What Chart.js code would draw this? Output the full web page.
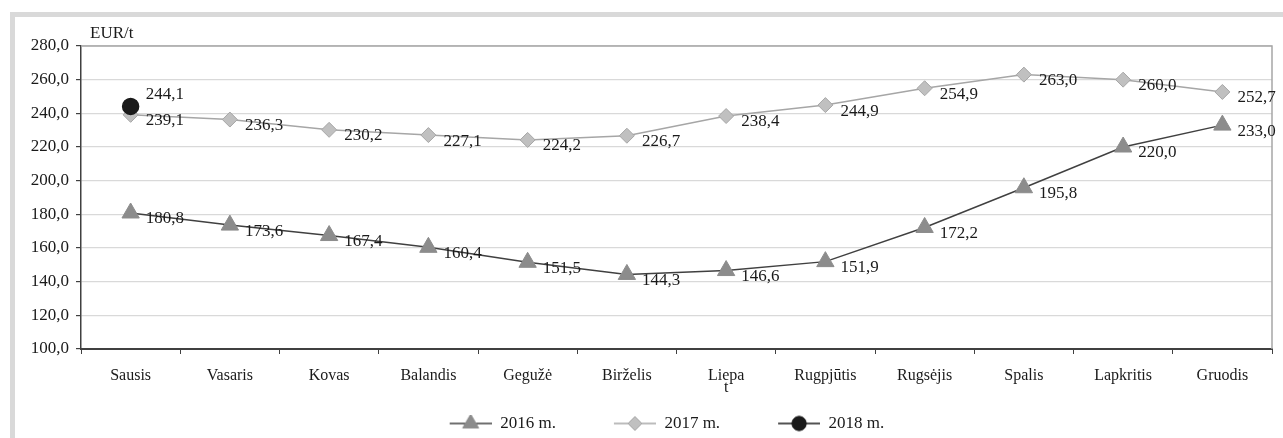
<!DOCTYPE html>
<html>
<head>
<meta charset="utf-8">
<script src="https://cdn.jsdelivr.net/npm/chart.js@4.4.1/dist/chart.umd.min.js"></script>
<style>
  body { margin: 0; background: #fff; }
  #frame { position: absolute; left: 10px; top: 12px; right: 0; bottom: 0;
           border-left: 5px solid #d9d9d9; border-top: 5px solid #d9d9d9; }
  #c { position: absolute; left: 0; top: 0; }
</style>
</head>
<body>
<div id="frame"></div>
<canvas id="c" width="1283" height="438"></canvas>
<script>
const months = ['Sausis', 'Vasaris', 'Kovas', 'Balandis', 'Gegužė', 'Birželis',
    ['Liepa', 't'], 'Rugpjūtis', 'Rugsėjis', 'Spalis', 'Lapkritis', 'Gruodis'];
const y2016 = [180.8, 173.6, 167.4, 160.4, 151.5, 144.3, 146.6, 151.9, 172.2, 195.8, 220.0, 233.0];
const y2017 = [239.1, 236.3, 230.2, 227.1, 224.2, 226.7, 238.4, 244.9, 254.9, 263.0, 260.0, 252.7];
const y2018 = [244.1, null, null, null, null, null, null, null, null, null, null, null];
const seriesNames = ['2016 m.', '2017 m.', '2018 m.'];

const FONT = 'Liberation Serif';
const comma = v => v.toFixed(1).replace('.', ',');

// legend sample: blank gap, then a short line with the marker in the middle
function legendIcon(lineColor, style, fill, stroke, r) {
    const cv = document.createElement('canvas');
    cv.width = 100; cv.height = 20;
    const g = cv.getContext('2d');
    g.strokeStyle = lineColor; g.lineWidth = 1.5;
    g.beginPath(); g.moveTo(58, 10); g.lineTo(100, 10); g.stroke();
    g.fillStyle = fill; g.strokeStyle = stroke; g.lineWidth = 1;
    Chart.helpers.drawPoint(g, {pointStyle: style, radius: r, rotation: 0, borderWidth: 1}, 79, 10);
    g.fill(); g.stroke();
    return cv;
}

const pointLabels = {
    id: 'pointLabels',
    afterDatasetsDraw(chart) {
        const ctx = chart.ctx;
        ctx.save();
        ctx.font = '17px "' + FONT + '"';
        ctx.fillStyle = '#1a1a1a';
        ctx.textAlign = 'left';
        ctx.textBaseline = 'middle';
        chart.data.datasets.forEach((ds, i) => {
            const meta = chart.getDatasetMeta(i);
            meta.data.forEach((pt, j) => {
                const v = ds.data[j];
                if (v == null) return;
                const dy = i === 2 ? -12 : 6;
                ctx.fillText(comma(v), pt.x + 15, pt.y + dy);
            });
        });
        ctx.restore();
    }
};

const plotBorder = {
    id: 'plotBorder',
    beforeDatasetsDraw(chart) {
        const a = chart.chartArea, ctx = chart.ctx;
        ctx.save();
        ctx.strokeStyle = '#a6a6a6';
        ctx.lineWidth = 1.5;
        ctx.beginPath();
        ctx.moveTo(a.left, a.top);
        ctx.lineTo(a.right, a.top);
        ctx.lineTo(a.right, a.bottom);
        ctx.stroke();
        ctx.restore();
    }
};

const icons = [
    legendIcon('#404040', 'triangle', '#8c8c8c', '#8c8c8c', 9),
    legendIcon('#a6a6a6', 'rectRot', '#c0c0c0', '#a6a6a6', 7),
    legendIcon('#1a1a1a', 'circle', '#1a1a1a', '#1a1a1a', 7)
];

new Chart(document.getElementById('c'), {
    type: 'line',
    data: {
        labels: months,
        datasets: [
            {
                label: seriesNames[0], data: y2016, order: 2,
                borderColor: '#404040', borderWidth: 1.5,
                pointStyle: 'triangle', pointRadius: 10,
                pointBackgroundColor: '#8c8c8c', pointBorderColor: '#8c8c8c', pointBorderWidth: 1
            },
            {
                label: seriesNames[1], data: y2017, order: 1,
                borderColor: '#a6a6a6', borderWidth: 1.5,
                pointStyle: 'rectRot', pointRadius: 7.5,
                pointBackgroundColor: '#c0c0c0', pointBorderColor: '#a6a6a6', pointBorderWidth: 1
            },
            {
                label: seriesNames[2], data: y2018, order: 0,
                borderColor: '#1a1a1a', borderWidth: 1.5,
                pointStyle: 'circle', pointRadius: 8,
                pointBackgroundColor: '#1a1a1a', pointBorderColor: '#1a1a1a'
            }
        ]
    },
    options: {
        responsive: false,
        animation: false,
        layout: { padding: { left: 0, right: 7, top: 46, bottom: -4 } },
        scales: {
            x: {
                offset: true,
                grid: { offset: true, drawOnChartArea: false, drawTicks: true, tickLength: 5, tickColor: '#404040' },
                border: { color: '#404040', width: 2 },
                ticks: { color: '#1a1a1a', font: { family: FONT, size: 16, lineHeight: 0.8 }, padding: 15, maxRotation: 0 },
                afterFit(s) { s.height = 66; }
            },
            y: {
                min: 100, max: 280,
                ticks: { stepSize: 20, callback: v => comma(v), color: '#1a1a1a', font: { family: FONT, size: 17 }, padding: 7 },
                grid: { color: '#d9d9d9', tickColor: '#404040', tickLength: 5, lineWidth: 1.2 },
                border: { color: '#404040', width: 1.5 },
                afterFit(s) { s.width = 81; }
            }
        },
        plugins: {
            tooltip: { enabled: false },
            legend: {
                position: 'bottom',
                labels: {
                    usePointStyle: true,
                    pointStyleWidth: 100,
                    padding: 0,
                    color: '#1a1a1a',
                    font: { family: FONT, size: 17 },
                    generateLabels: chart => chart.data.datasets.map((ds, i) => ({
                        text: ds.label, pointStyle: icons[i], datasetIndex: i,
                        fillStyle: 'transparent', strokeStyle: 'transparent', lineWidth: 0, fontColor: '#1a1a1a'
                    }))
                }
            }
        }
    },
    plugins: [plotBorder, pointLabels, {
        id: 'unitLabel',
        afterDraw(chart) {
            const ctx = chart.ctx;
            ctx.save();
            ctx.font = '17px "' + FONT + '"';
            ctx.fillStyle = '#1a1a1a';
            ctx.textAlign = 'left';
            ctx.textBaseline = 'middle';
            ctx.fillText('EUR/t', chart.chartArea.left + 9, chart.chartArea.top - 12);
            ctx.restore();
        }
    }]
});
</script>
</body>
</html>
